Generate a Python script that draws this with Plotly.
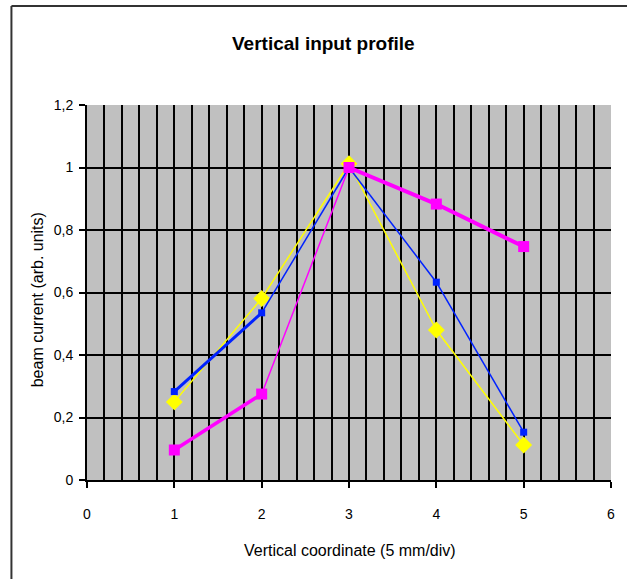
import plotly.graph_objects as go

# ---- data ----
x_coord = [1, 2, 3, 4, 5]
blue_vals = [0.283, 0.535, 1.0, 0.633, 0.153]
yellow_vals = [0.25, 0.581, 1.012, 0.48, 0.112]
magenta_vals = [0.096, 0.275, 1.0, 0.883, 0.747]

y_tickvals = [0, 0.2, 0.4, 0.6, 0.8, 1.0, 1.2]
y_ticktext = ["0", "0,2", "0,4", "0,6", "0,8", "1", "1,2"]
x_tickvals = [0, 1, 2, 3, 4, 5, 6]

title_text = "Vertical input profile"
x_title = "Vertical coordinate (5 mm/div)"
y_title = "beam current (arb. units)"

# ---- styles ----
series = [
    dict(y=yellow_vals, color="#FFFF00", widths=[1.5, 1.5, 1.5, 1.5], symbol="diamond", size=13),
    dict(y=blue_vals, color="#0022FF", widths=[3, 1.5, 1.5, 1.5], symbol="square", size=7),
    dict(y=magenta_vals, color="#FF00FF", widths=[3.5, 1.5, 4, 4], symbol="square", size=11),
]

fig = go.Figure()
for s in series:
    for i, w in enumerate(s["widths"]):
        fig.add_trace(go.Scatter(
            x=x_coord[i:i + 2], y=s["y"][i:i + 2], mode="lines",
            line=dict(color=s["color"], width=w), showlegend=False, hoverinfo="skip"))
    fig.add_trace(go.Scatter(
        x=x_coord, y=s["y"], mode="markers",
        marker=dict(color=s["color"], symbol=s["symbol"], size=s["size"],
                    line=dict(width=0)),
        showlegend=False))

font_family = "Liberation Sans, Arial, sans-serif"

fig.update_layout(
    width=627, height=579,
    margin=dict(l=87, r=13, t=105, b=99),
    paper_bgcolor="white",
    plot_bgcolor="#C0C0C0",
    font=dict(family=font_family, size=13, color="black"),
    showlegend=False,
    xaxis=dict(
        range=[0, 6], tickvals=x_tickvals, ticktext=[str(v) for v in x_tickvals],
        showgrid=True, gridcolor="black", gridwidth=2,
        minor=dict(dtick=0.2, tick0=0, showgrid=True, gridcolor="black", gridwidth=2),
        showline=True, linecolor="black", linewidth=2,
        ticks="outside", ticklen=6, tickwidth=2, tickcolor="black",
        ticklabelstandoff=14, zeroline=False,
        tickfont=dict(size=14),
    ),
    yaxis=dict(
        range=[0, 1.2], tickvals=y_tickvals, ticktext=y_ticktext,
        showgrid=True, gridcolor="black", gridwidth=2,
        showline=True, linecolor="black", linewidth=2,
        ticks="outside", ticklen=6, tickwidth=2, tickcolor="black",
        ticklabelstandoff=3, zeroline=False,
        tickfont=dict(size=14),
    ),
    annotations=[
        dict(text="<b>" + title_text + "</b>", xref="paper", yref="paper",
             x=(325 - 87) / 527, y=(480 - 44) / 375, showarrow=False,
             xanchor="center", yanchor="middle", font=dict(size=19)),
        dict(text=x_title, xref="paper", yref="paper",
             x=(352 - 87) / 527, y=(480 - 550) / 375, showarrow=False,
             xanchor="center", yanchor="middle", font=dict(size=16)),
        dict(text=y_title, xref="paper", yref="paper", textangle=-90,
             x=(37 - 87) / 527, y=(480 - 300) / 375, showarrow=False,
             xanchor="center", yanchor="middle", font=dict(size=16)),
    ],
    shapes=[
        dict(type="line", xref="paper", yref="paper",
             x0=(11 - 87) / 527, x1=(700 - 87) / 527,
             y0=(480 - 6) / 375, y1=(480 - 6) / 375,
             line=dict(color="#333333", width=2)),
        dict(type="line", xref="paper", yref="paper",
             x0=(11 - 87) / 527, x1=(11 - 87) / 527,
             y0=(480 - 6) / 375, y1=(480 - 650) / 375,
             line=dict(color="#333333", width=2)),
    ],
)

fig.write_html("out.html")
